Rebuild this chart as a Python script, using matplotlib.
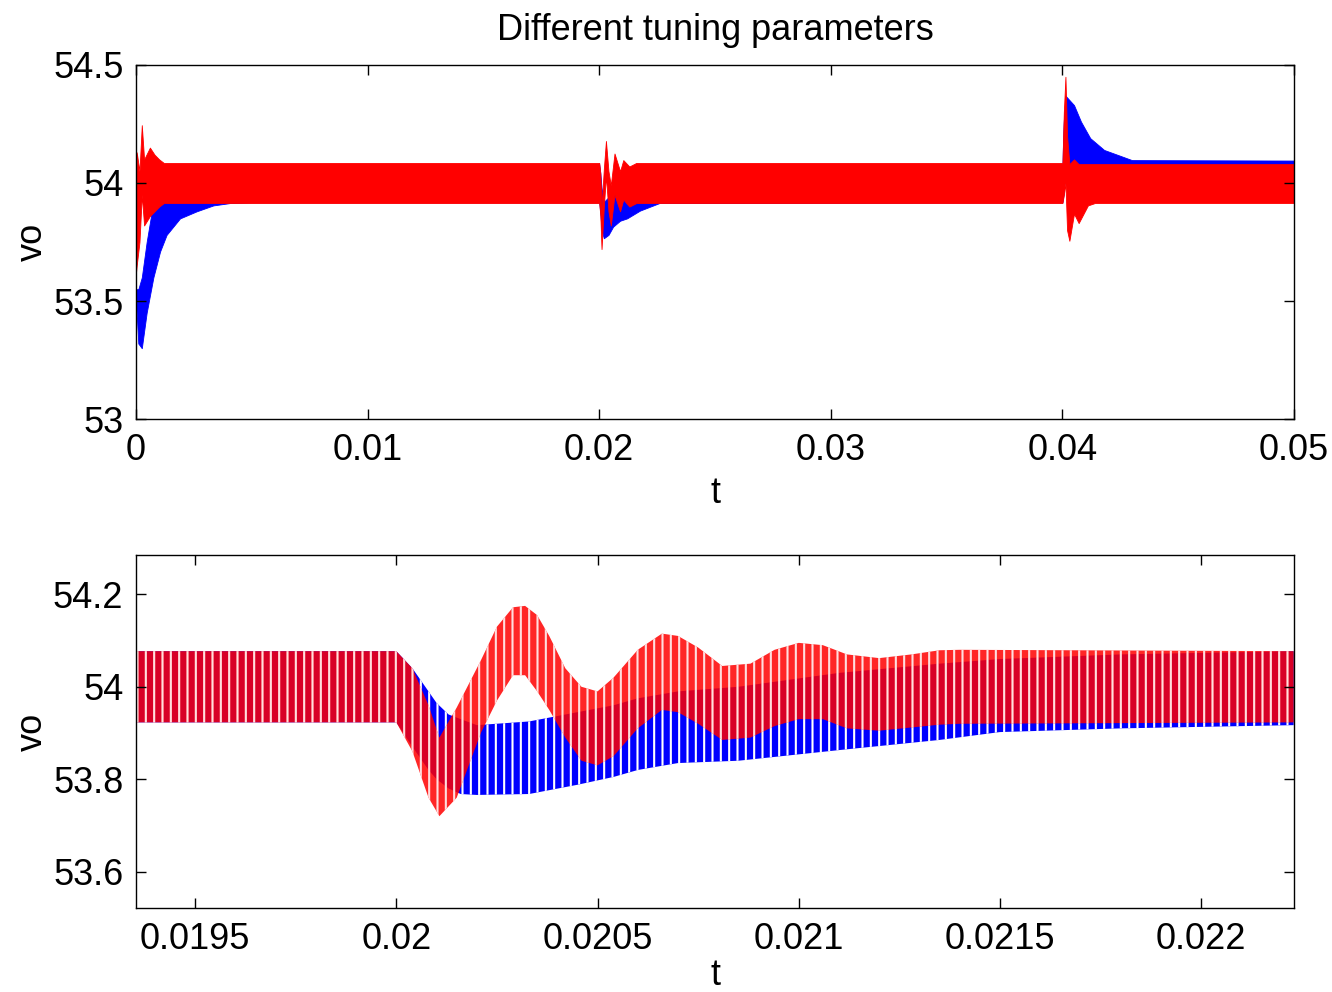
# vo response, two controller tunings (blue / red), full run + zoom at t = 0.02

import matplotlib
matplotlib.use('Agg')
import matplotlib.pyplot as plt

plt.rcParams['font.family'] = ['Liberation Sans', 'DejaVu Sans']
plt.rcParams['hatch.linewidth'] = 1.5

# --- top panel: ripple band (upper / lower envelope) ---
t_blue_top = [0, 0.0001, 0.00025, 0.00046, 0.00075, 0.00104, 0.00132, 0.0019, 0.00262, 0.00334, 0.00406, 0.005,
              0.0199, 0.02, 0.02005, 0.0201, 0.0202, 0.0204, 0.0206, 0.0209, 0.0212, 0.02176, 0.0226,
              0.0399, 0.04, 0.04005, 0.04013, 0.0405, 0.0408, 0.0412, 0.0418, 0.0425, 0.043, 0.05]
hi_blue_top = [53.55, 53.55, 53.60, 53.75, 53.92, 54.02, 54.06, 54.08, 54.08, 54.08, 54.08, 54.08,
               54.08, 54.08, 54.04, 53.98, 53.92, 53.94, 53.98, 54.0, 54.03, 54.05, 54.08,
               54.08, 54.08, 54.25, 54.37, 54.33, 54.26, 54.19, 54.14, 54.115, 54.097, 54.095]
lo_blue_top = [53.50, 53.32, 53.30, 53.45, 53.60, 53.71, 53.78, 53.85, 53.88, 53.905, 53.915, 53.918,
               53.918, 53.918, 53.87, 53.80, 53.766, 53.78, 53.815, 53.84, 53.85, 53.883, 53.915,
               53.918, 53.918, 53.95, 54.05, 54.03, 54.0, 53.97, 53.95, 53.94, 53.93, 53.93]

t_red_top = [0, 0.00003, 0.00015, 0.00025, 0.00035, 0.0006, 0.0008, 0.001, 0.0012,
             0.0199, 0.02, 0.02005, 0.0201, 0.0202, 0.02029, 0.0204, 0.0205, 0.02066, 0.0209, 0.02104, 0.0213, 0.0216,
             0.0399, 0.04, 0.04006, 0.04013, 0.0402, 0.0403, 0.0405, 0.0407, 0.0411, 0.0414, 0.05]
hi_red_top = [53.80, 54.13, 54.05, 54.245, 54.10, 54.15, 54.12, 54.10, 54.085,
              54.085, 54.085, 54.04, 53.90, 54.06, 54.178, 54.05, 53.99, 54.125, 54.05, 54.097, 54.07, 54.085,
              54.085, 54.085, 54.30, 54.45, 54.20, 54.08, 54.10, 54.08, 54.08, 54.08, 54.08]
lo_red_top = [53.62, 53.65, 53.75, 53.95, 53.82, 53.86, 53.88, 53.90, 53.915,
              53.915, 53.915, 53.86, 53.72, 53.90, 54.03, 53.88, 53.82, 53.95, 53.88, 53.93, 53.90, 53.915,
              53.915, 53.915, 53.95, 54.00, 53.80, 53.755, 53.87, 53.83, 53.905, 53.915, 53.915]

# --- bottom panel: zoom around the step at t = 0.02 ---
t_blue_bot = [0.01935, 0.02, 0.02004, 0.02008, 0.0201, 0.02013, 0.02016, 0.0202, 0.02033, 0.02045, 0.02054,
              0.0206, 0.0207, 0.02085, 0.0211, 0.02135, 0.0215, 0.0218, 0.02223]
hi_blue_bot = [54.077, 54.077, 54.04, 53.99, 53.965, 53.94, 53.93, 53.917, 53.925, 53.945, 53.96,
               53.975, 53.99, 54.0, 54.03, 54.05, 54.06, 54.07, 54.077]
lo_blue_bot = [53.923, 53.923, 53.87, 53.82, 53.80, 53.78, 53.768, 53.766, 53.768, 53.788, 53.805,
               53.82, 53.835, 53.84, 53.863, 53.885, 53.902, 53.91, 53.917]

t_red_bot = [0.01935, 0.02, 0.02004, 0.02008, 0.020107, 0.02015, 0.02021, 0.02025, 0.02029, 0.02032,
             0.02035, 0.02038, 0.02042, 0.02046, 0.0205, 0.02054, 0.0206, 0.02066, 0.0207, 0.02075,
             0.02081, 0.02088, 0.02094, 0.021, 0.02106, 0.02112, 0.0212, 0.02128, 0.02135, 0.0214, 0.02223]
hi_red_bot = [54.077, 54.077, 54.04, 53.96, 53.89, 53.955, 54.057, 54.13, 54.172, 54.175,
              54.155, 54.11, 54.04, 54.0, 53.99, 54.02, 54.08, 54.115, 54.11, 54.085,
              54.045, 54.05, 54.08, 54.095, 54.09, 54.07, 54.062, 54.07, 54.079, 54.08, 54.077]
lo_red_bot = [53.923, 53.923, 53.86, 53.76, 53.72, 53.76, 53.90, 53.97, 54.025, 54.025,
              53.99, 53.95, 53.89, 53.84, 53.83, 53.85, 53.91, 53.95, 53.945, 53.92,
              53.885, 53.89, 53.915, 53.93, 53.93, 53.91, 53.905, 53.912, 53.918, 53.92, 53.923]

# ticks
xt_top = [0, 0.01, 0.02, 0.03, 0.04, 0.05]
xl_top = ['0', '0.01', '0.02', '0.03', '0.04', '0.05']
yt_top = [53, 53.5, 54, 54.5]
yl_top = ['53', '53.5', '54', '54.5']
xt_bot = [0.0195, 0.02, 0.0205, 0.021, 0.0215, 0.022]
xl_bot = ['0.0195', '0.02', '0.0205', '0.021', '0.0215', '0.022']
yt_bot = [53.6, 53.8, 54, 54.2]
yl_bot = ['53.6', '53.8', '54', '54.2']

fig = plt.figure(figsize=(13.32, 9.92), dpi=100)
ax1 = fig.add_axes([0.1021, 0.5776, 0.8694, 0.3569])
ax2 = fig.add_axes([0.1021, 0.0847, 0.8694, 0.3558])

# top
ax1.fill_between(t_blue_top, lo_blue_top, hi_blue_top, color='#0000ff', lw=0.6)
ax1.fill_between(t_red_top, lo_red_top, hi_red_top, color='#ff0000', lw=0.6)
ax1.set_xlim(0, 0.05)
ax1.set_ylim(53, 54.5)
ax1.set_xticks(xt_top, xl_top)
ax1.set_yticks(yt_top, yl_top)
ax1.set_title('Different tuning parameters', fontsize=26, pad=18)

# bottom (hatch gives the switching-ripple look)
ax2.fill_between(t_blue_bot, lo_blue_bot, hi_blue_bot, facecolor='#0000ff',
                 edgecolor='white', hatch='||', lw=0)
ax2.fill_between(t_red_bot, lo_red_bot, hi_red_bot, facecolor='#ff0000',
                 edgecolor='white', hatch='||', lw=0, alpha=0.85)
ax2.set_xlim(0.019353, 0.022231)
ax2.set_ylim(53.5215, 54.285)
ax2.set_xticks(xt_bot, xl_bot)
ax2.set_yticks(yt_bot, yl_bot)

for ax in (ax1, ax2):
    ax.tick_params(direction='in', top=True, right=True, length=7, width=1, labelsize=26)
    ax.tick_params(axis='x', pad=10)
    ax.tick_params(axis='y', pad=9)
    ax.set_ylabel('vo', fontsize=26, labelpad=2)
    for s in ax.spines.values():
        s.set_linewidth(1)

ax1.set_xlabel('t', fontsize=26, labelpad=6)
ax2.set_xlabel('t', fontsize=26, labelpad=1)

fig.savefig('out.png', dpi=100)
